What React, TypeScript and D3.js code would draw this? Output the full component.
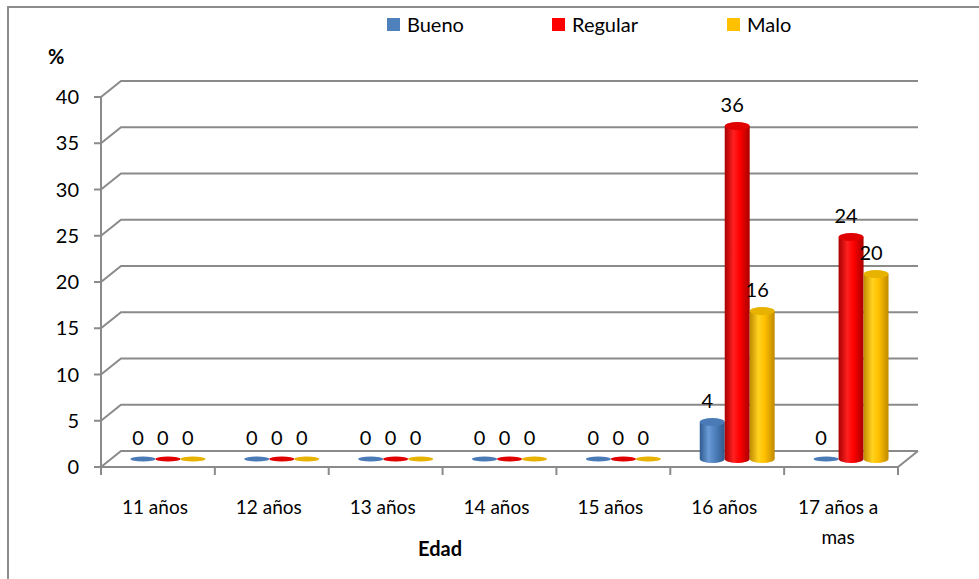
import React from "react";
import * as d3 from "d3";

const categories = ["11 años", "12 años", "13 años", "14 años", "15 años", "16 años", "17 años a mas"];
const seriesNames = ["Bueno", "Regular", "Malo"];
const bueno = [0, 0, 0, 0, 0, 4, 0];
const regular = [0, 0, 0, 0, 0, 36, 24];
const malo = [0, 0, 0, 0, 0, 16, 20];
const yTicks = [0, 5, 10, 15, 20, 25, 30, 35, 40];

const seriesValues = [bueno, regular, malo];
const palette = [
  { edge: "#2e5a8e", mid: "#6a9bd6", top: "#4a7bb7", key: "#4f81bd" },
  { edge: "#a80000", mid: "#ff2020", top: "#e00000", key: "#ff0000" },
  { edge: "#c08a00", mid: "#ffd21f", top: "#e8b200", key: "#ffc000" },
];

const W = 979;
const H = 579;
const FONT = "Lato, 'Open Sans', sans-serif";
const DX = 20;
const DY = -16;
const GRID = "#8a8a8a";

export default function App() {
  const x = d3.scaleBand<string>().domain(categories).range([101, 898]).paddingInner(0).paddingOuter(0);
  const xs = d3.scaleBand<string>().domain(seriesNames).range([0, x.bandwidth()]).paddingInner(0).paddingOuter(0.78);
  const y = d3.scaleLinear().domain([0, 40]).range([467, 97]);

  const bw = xs.bandwidth();
  const rx = bw / 2;
  const ry = 4;
  const [x0, x1] = x.range();

  const bars: React.ReactNode[] = [];
  const labels: React.ReactNode[] = [];
  categories.forEach((c, ci) => {
    seriesNames.forEach((s, si) => {
      const v = seriesValues[si][ci];
      const cx = (x(c) as number) + (xs(s) as number) + rx + DX / 2;
      const base = y(0) + DY / 2;
      const top = y(v) + DY / 2;
      const p = palette[si];
      if (v === 0) {
        bars.push(<ellipse key={`b${ci}-${si}`} cx={cx} cy={base} rx={rx} ry={2.6} fill={p.top} />);
      } else {
        bars.push(
          <g key={`b${ci}-${si}`}>
            <path
              d={`M${cx - rx},${top} L${cx - rx},${base} A${rx},${ry} 0 0 0 ${cx + rx},${base} L${cx + rx},${top} Z`}
              fill={`url(#grad${si})`}
            />
            <ellipse cx={cx} cy={top} rx={rx} ry={ry} fill={p.top} />
          </g>
        );
      }
      labels.push(
        <text key={`l${ci}-${si}`} x={cx - 5} y={top - 21} dy="0.35em" textAnchor="middle" fontSize={20} fontFamily={FONT} fill="#000">
          {v}
        </text>
      );
    });
  });

  return (
    <svg width={W} height={H} style={{ position: "absolute", left: 0, top: 0, background: "#fff" }}>
      <defs>
        {palette.map((p, i) => (
          <linearGradient key={i} id={`grad${i}`} x1="0" x2="1" y1="0" y2="0">
            <stop offset="0%" stopColor={p.edge} />
            <stop offset="35%" stopColor={p.mid} />
            <stop offset="60%" stopColor={p.key} />
            <stop offset="100%" stopColor={p.edge} />
          </linearGradient>
        ))}
      </defs>

      {/* outer frame */}
      <path d={`M8,${H} L8,7 L${W},7`} fill="none" stroke="#8c8c8c" strokeWidth={2} />

      {/* back wall gridlines */}
      {yTicks.map((t) => (
        <path
          key={`g${t}`}
          d={`M${x0},${y(t)} L${x0 + DX},${y(t) + DY} L${x1 + DX},${y(t) + DY}`}
          fill="none"
          stroke={GRID}
          strokeWidth={2}
        />
      ))}

      {/* floor */}
      <path d={`M${x0},${y(0)} L${x1},${y(0)} L${x1 + DX},${y(0) + DY}`} fill="none" stroke={GRID} strokeWidth={2} />

      {/* value axis */}
      <line x1={x0} x2={x0} y1={y(40)} y2={y(0)} stroke={GRID} strokeWidth={2} />
      {yTicks.map((t) => (
        <g key={`yt${t}`}>
          <line x1={x0 - 7} x2={x0} y1={y(t)} y2={y(t)} stroke={GRID} strokeWidth={2} />
          <text x={79} y={y(t)} dy="0.35em" textAnchor="end" fontSize={20} fontFamily={FONT} fill="#000">
            {t}
          </text>
        </g>
      ))}

      {/* category ticks */}
      {[...categories.map((c) => x(c) as number), x1].map((px, i) => (
        <line key={`xt${i}`} x1={px} x2={px} y1={y(0)} y2={y(0) + 8} stroke={GRID} strokeWidth={2} />
      ))}

      {bars}
      {labels}

      {/* category labels */}
      {categories.map((c) => {
        const cx = (x(c) as number) + x.bandwidth() / 2;
        const words = c === "17 años a mas" ? ["17 años a", "mas"] : [c];
        return (
          <text key={`c${c}`} x={cx - 3} y={507} dy="0.35em" textAnchor="middle" fontSize={19} fontFamily={FONT} fill="#000">
            {words.map((w, i) => (
              <tspan key={i} x={cx - 3} dy={i === 0 ? "0.35em" : 30}>
                {w}
              </tspan>
            ))}
          </text>
        );
      })}

      <text x={440} y={549} dy="0.35em" textAnchor="middle" fontSize={20} fontWeight="bold" fontFamily={FONT} fill="#000">
        Edad
      </text>
      <text x={48} y={57} dy="0.35em" fontSize={20} fontWeight="bold" fontFamily={FONT} fill="#000">
        %
      </text>

      {/* legend */}
      {seriesNames.map((s, i) => {
        const lx = [387, 552, 727][i];
        return (
          <g key={`lg${s}`}>
            <rect x={lx} y={18} width={13} height={13} fill={palette[i].key} />
            <text x={lx + 20} y={25} dy="0.35em" fontSize={20} fontFamily={FONT} fill="#000">
              {s}
            </text>
          </g>
        );
      })}
    </svg>
  );
}
